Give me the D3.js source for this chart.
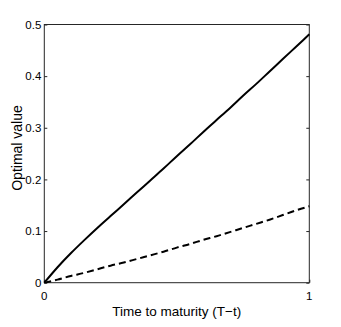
<!DOCTYPE html>
<html><head><meta charset="utf-8">
<script src="https://cdn.jsdelivr.net/npm/d3@7"></script>
<style>body{margin:0;background:#fff}svg{display:block}</style>
</head><body><svg id="c" width="341" height="327"></svg>
<script>
const xValues = [0,0.05,0.1,0.15,0.2,0.25,0.3,0.35,0.4,0.45,0.5,0.55,0.6,0.65,0.7,0.75,0.8,0.85,0.9,0.95,1];
const solidValues = [0,0.030,0.057,0.082,0.106,0.129,0.152,0.175,0.198,0.221,0.245,0.268,0.292,0.315,0.338,0.362,0.385,0.409,0.433,0.457,0.481];
const dashedValues = [0,0.006,0.013,0.019,0.026,0.033,0.039,0.046,0.053,0.060,0.068,0.075,0.083,0.090,0.098,0.106,0.114,0.122,0.131,0.140,0.148];
const yTicks = [0,0.1,0.2,0.3,0.4,0.5];
const xTicks = [0,1];
const xLabel = "Time to maturity (T\u2212t)";
const yLabel = "Optimal value";

const svg = d3.select("#c");
const L=44.3, R=309.3, T=24.5, B=282.7;
const x = d3.scaleLinear().domain([0,1]).range([L,R]);
const y = d3.scaleLinear().domain([0,0.5]).range([B,T]);
const font = "Liberation Sans, Arial, sans-serif";

svg.append("rect").attr("x",L).attr("y",T).attr("width",R-L).attr("height",B-T)
  .attr("fill","none").attr("stroke","#262626").attr("stroke-width",1);

const yl = svg.append("g").attr("transform",`translate(${L},0)`)
  .call(d3.axisRight(y).tickValues(yTicks).tickSize(3).tickFormat(""));
const yr = svg.append("g").attr("transform",`translate(${R},0)`)
  .call(d3.axisLeft(y).tickValues(yTicks).tickSize(3).tickFormat(""));
const xb = svg.append("g").attr("transform",`translate(0,${B})`)
  .call(d3.axisTop(x).tickValues(xTicks).tickSize(3).tickFormat(""));
[yl,yr,xb].forEach(g=>{g.select(".domain").remove();g.selectAll("line").attr("stroke","#262626");});

svg.append("g").selectAll("text").data(yTicks).join("text")
  .attr("x",L-3).attr("y",d=>y(d)).attr("dy","0.36em").attr("text-anchor","end")
  .attr("font-family",font).attr("font-size",11.5).attr("fill","#000")
  .text(d=>d===0?"0":d3.format(".1f")(d));
svg.append("g").selectAll("text").data(xTicks).join("text")
  .attr("x",d=>x(d)).attr("y",B+17).attr("text-anchor","middle")
  .attr("font-family",font).attr("font-size",11.5).attr("fill","#000")
  .text(d=>d);

svg.append("text").attr("x",(L+R)/2).attr("y",316).attr("text-anchor","middle")
  .attr("font-family",font).attr("font-size",13.5).attr("fill","#000").text(xLabel);
svg.append("text").attr("transform",`translate(22,148) rotate(-90)`).attr("text-anchor","middle")
  .attr("font-family",font).attr("font-size",14).attr("fill","#000").text(yLabel);

const line = d3.line().x((d,i)=>x(xValues[i])).y(d=>y(d)).curve(d3.curveMonotoneX);
svg.append("path").attr("d",line(solidValues)).attr("fill","none").attr("stroke","#000").attr("stroke-width",2);
svg.append("path").attr("d",line(dashedValues)).attr("fill","none").attr("stroke","#000").attr("stroke-width",2)
  .attr("stroke-dasharray","7,4");
</script></body></html>
